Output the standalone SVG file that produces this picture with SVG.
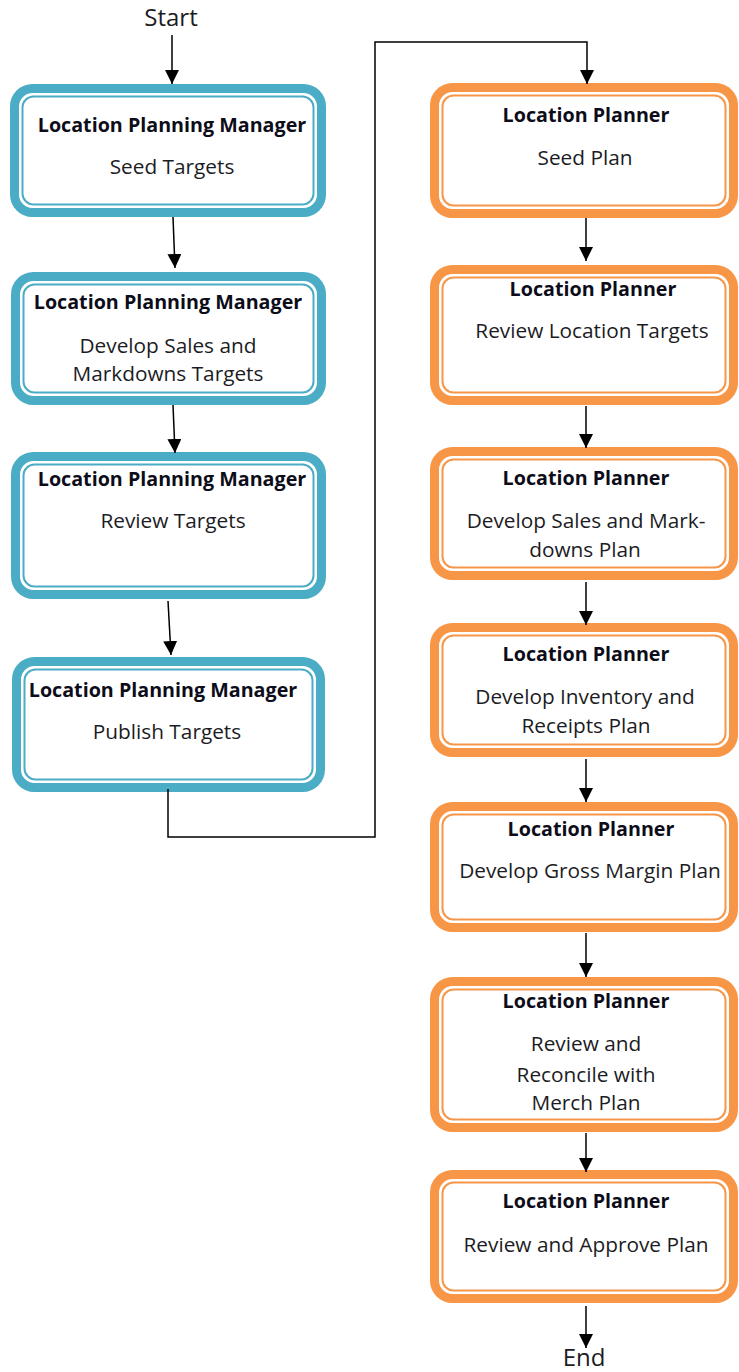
<svg xmlns="http://www.w3.org/2000/svg" width="739" height="1372" viewBox="0 0 739 1372">
<style>
.bg{fill:#ffffff}
.bt{fill:#ffffff;stroke:#4BACC6;stroke-width:9}
.bn{fill:none;stroke:#4BACC6;stroke-width:2}
.ot{fill:#ffffff;stroke:#F79646;stroke-width:9}
.on{fill:none;stroke:#F79646;stroke-width:2}
.ti{font-family:"Open Sans","Liberation Sans",sans-serif;font-weight:bold;font-size:19.7px;fill:#0d0d1a;text-anchor:middle}
.tx{font-family:"Open Sans","Liberation Sans",sans-serif;font-size:20.8px;fill:#1c1c24;text-anchor:middle}
.se{font-family:"Open Sans","Liberation Sans",sans-serif;font-size:24px;fill:#1c1c24;text-anchor:middle}
.cn{fill:none;stroke:#000000;stroke-width:1.5}
</style>
<defs>
<marker id="ah" viewBox="0 0 14 14" refX="14" refY="7" markerWidth="14" markerHeight="14" markerUnits="userSpaceOnUse" orient="auto">
<path d="M0,0 L14,7 L0,14 z" fill="#000000"/>
</marker>
</defs>
<rect class="bg" x="0" y="0" width="739" height="1372"/>

<g id="start"><text class="se" x="171" y="26">Start</text></g>
<g id="end"><text class="se" x="584" y="1366">End</text></g>

<g id="b1">
<rect class="bt" x="14.5" y="88.5" width="307" height="124" rx="18"/>
<rect class="bn" x="22.5" y="96.5" width="291" height="108" rx="11"/>
<text class="ti" x="172" y="132">Location Planning Manager</text>
<text class="tx" x="172" y="174">Seed Targets</text>
</g>
<g id="b2">
<rect class="bt" x="15.5" y="276.5" width="306" height="124" rx="18"/>
<rect class="bn" x="23.5" y="284.5" width="290" height="108" rx="11"/>
<text class="ti" x="168" y="309">Location Planning Manager</text>
<text class="tx" x="168" y="353">Develop Sales and</text>
<text class="tx" x="168" y="381">Markdowns Targets</text>
</g>
<g id="b3">
<rect class="bt" x="15.5" y="456.5" width="306" height="138" rx="18"/>
<rect class="bn" x="23.5" y="464.5" width="290" height="122" rx="11"/>
<text class="ti" x="172" y="486">Location Planning Manager</text>
<text class="tx" x="173" y="528">Review Targets</text>
</g>
<g id="b4">
<rect class="bt" x="16.5" y="661.5" width="304" height="126" rx="18"/>
<rect class="bn" x="24.5" y="669.5" width="288" height="110" rx="11"/>
<text class="ti" x="163" y="697">Location Planning Manager</text>
<text class="tx" x="167" y="739">Publish Targets</text>
</g>

<g id="o1">
<rect class="ot" x="434.5" y="87.5" width="299" height="126" rx="18"/>
<rect class="on" x="442.5" y="95.5" width="283" height="110" rx="11"/>
<text class="ti" x="586" y="122">Location Planner</text>
<text class="tx" x="585" y="165">Seed Plan</text>
</g>
<g id="o2">
<rect class="ot" x="434.5" y="269.5" width="299" height="131" rx="18"/>
<rect class="on" x="442.5" y="277.5" width="283" height="115" rx="11"/>
<text class="ti" x="593" y="296">Location Planner</text>
<text class="tx" x="592" y="338">Review Location Targets</text>
</g>
<g id="o3">
<rect class="ot" x="434.5" y="451.5" width="299" height="124" rx="18"/>
<rect class="on" x="442.5" y="459.5" width="283" height="108" rx="11"/>
<text class="ti" x="586" y="485">Location Planner</text>
<text class="tx" x="586" y="528">Develop Sales and Mark-</text>
<text class="tx" x="585" y="557">downs Plan</text>
</g>
<g id="o4">
<rect class="ot" x="434.5" y="627.5" width="299" height="125" rx="18"/>
<rect class="on" x="442.5" y="635.5" width="283" height="109" rx="11"/>
<text class="ti" x="586" y="661">Location Planner</text>
<text class="tx" x="585" y="704">Develop Inventory and</text>
<text class="tx" x="586" y="733">Receipts Plan</text>
</g>
<g id="o5">
<rect class="ot" x="434.5" y="806.5" width="299" height="121" rx="18"/>
<rect class="on" x="442.5" y="814.5" width="283" height="105" rx="11"/>
<text class="ti" x="591" y="836">Location Planner</text>
<text class="tx" x="590" y="878">Develop Gross Margin Plan</text>
</g>
<g id="o6">
<rect class="ot" x="434.5" y="981.5" width="299" height="146" rx="18"/>
<rect class="on" x="442.5" y="989.5" width="283" height="130" rx="11"/>
<text class="ti" x="586" y="1008">Location Planner</text>
<text class="tx" x="586" y="1051">Review and</text>
<text class="tx" x="586" y="1082">Reconcile with</text>
<text class="tx" x="586" y="1110">Merch Plan</text>
</g>
<g id="o7">
<rect class="ot" x="434.5" y="1174.5" width="299" height="124" rx="18"/>
<rect class="on" x="442.5" y="1182.5" width="283" height="108" rx="11"/>
<text class="ti" x="586" y="1208">Location Planner</text>
<text class="tx" x="586" y="1252">Review and Approve Plan</text>
</g>

<g id="connectors">
<path class="cn" d="M172,35 L172,84" marker-end="url(#ah)"/>
<path class="cn" d="M173,217 L175,268" marker-end="url(#ah)"/>
<path class="cn" d="M173,405 L175,453" marker-end="url(#ah)"/>
<path class="cn" d="M168,601 L171,655" marker-end="url(#ah)"/>
<path class="cn" d="M168,789 L168,837 L375,837 L375,42 L587,42 L587,84" marker-end="url(#ah)"/>
<path class="cn" d="M586,218 L586,261" marker-end="url(#ah)"/>
<path class="cn" d="M586,406 L586,448" marker-end="url(#ah)"/>
<path class="cn" d="M586,582 L586,625" marker-end="url(#ah)"/>
<path class="cn" d="M586,759 L586,802" marker-end="url(#ah)"/>
<path class="cn" d="M586,933 L586,977" marker-end="url(#ah)"/>
<path class="cn" d="M586,1133 L586,1172" marker-end="url(#ah)"/>
<path class="cn" d="M586,1306 L586,1348" marker-end="url(#ah)"/>
</g>
</svg>
